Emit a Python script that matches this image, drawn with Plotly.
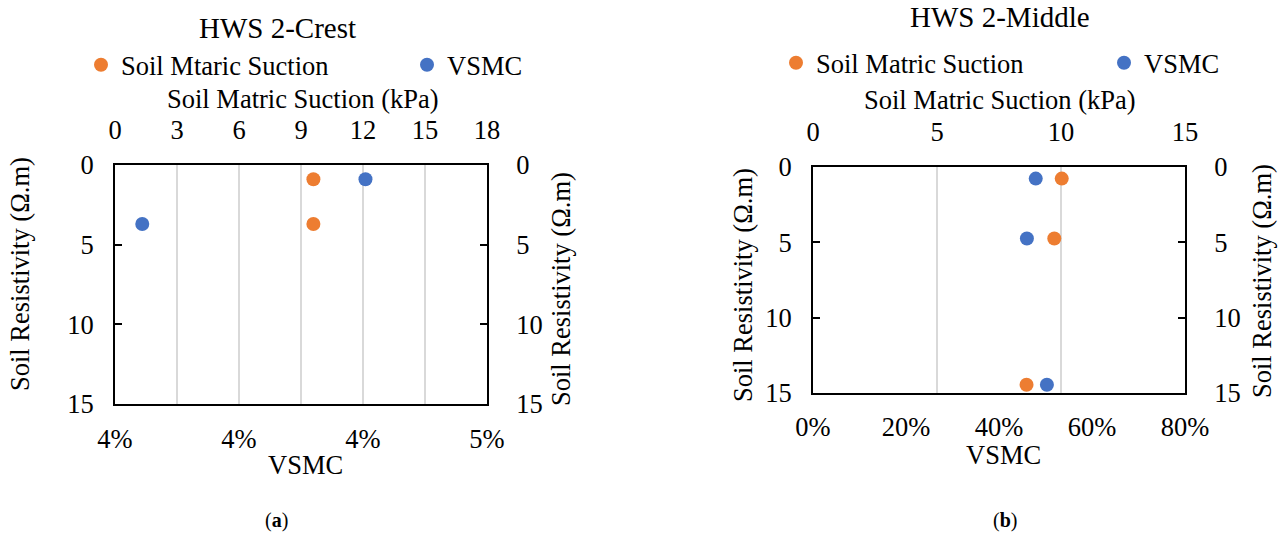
import plotly.graph_objects as go

W, H = 1281, 536
FONT = "Liberation Serif"
ORANGE = "#ED7D31"
BLUE = "#4472C4"
GRID = "#D9D9D9"
FS = 26.5

# ---- Panel (a): HWS 2-Crest ----
crest_res = [0.89, 3.70]                 # soil resistivity (Ω.m)
crest_suction = [9.6, 9.6]               # soil matric suction (kPa)
crest_vsmc = [0.04255, 0.03805]          # volumetric soil moisture content
crest_vsmc_ticks = [0.0375, 0.04, 0.0425, 0.045]
crest_vsmc_ticktext = ["4%", "4%", "4%", "5%"]
crest_suction_ticks = [0, 3, 6, 9, 12, 15, 18]

# ---- Panel (b): HWS 2-Middle ----
middle_res = [0.77, 4.75, 14.45]
middle_suction = [10.03, 9.73, 8.61]
middle_vsmc = [0.479, 0.460, 0.503]
middle_vsmc_ticks = [0, 0.2, 0.4, 0.6, 0.8]
middle_vsmc_ticktext = ["0%", "20%", "40%", "60%", "80%"]
middle_suction_ticks = [0, 5, 10, 15]

res_ticks = [0, 5, 10, 15]


def px(x):
    return x / W


def py(y):
    return 1 - y / H


fig = go.Figure()

# panel (a) traces
fig.add_trace(go.Scatter(x=crest_suction, y=crest_res, mode="markers",
                         name="Soil Mtaric Suction", xaxis="x2", yaxis="y2",
                         marker=dict(color=ORANGE, size=14), legend="legend"))
fig.add_trace(go.Scatter(x=crest_vsmc, y=crest_res, mode="markers",
                         name="VSMC", xaxis="x", yaxis="y",
                         marker=dict(color=BLUE, size=14), legend="legend"))
# panel (b) traces
fig.add_trace(go.Scatter(x=middle_suction, y=middle_res, mode="markers",
                         name="Soil Matric Suction", xaxis="x4", yaxis="y4",
                         marker=dict(color=ORANGE, size=14), legend="legend2"))
fig.add_trace(go.Scatter(x=middle_vsmc, y=middle_res, mode="markers",
                         name="VSMC", xaxis="x3", yaxis="y3",
                         marker=dict(color=BLUE, size=14), legend="legend2"))

tickfont = dict(family=FONT, size=FS, color="black")
line = dict(showline=True, linecolor="black", linewidth=2, zeroline=False)
ytick = dict(ticks="inside", ticklen=7, tickwidth=1.5, tickcolor="black",
             showgrid=False, tickfont=tickfont, tickvals=res_ticks,
             range=[15, 0])

dom_a_x = [px(115), px(487)]
dom_a_y = [py(404), py(165)]
dom_b_x = [px(813), px(1185)]
dom_b_y = [py(393), py(167)]

fig.update_layout(
    width=W, height=H,
    margin=dict(l=0, r=0, t=0, b=0, autoexpand=False),
    paper_bgcolor="white", plot_bgcolor="white",
    font=dict(family=FONT, size=FS, color="black"),
    # panel (a) axes
    xaxis=dict(domain=dom_a_x, anchor="y", range=[0.0375, 0.045],
               tickvals=crest_vsmc_ticks, ticktext=crest_vsmc_ticktext,
               showgrid=False, ticks="", tickfont=tickfont,
               ticklabelstandoff=10, **line),
    xaxis2=dict(overlaying="x", side="top", anchor="y", range=[0, 18],
                tickvals=crest_suction_ticks, showgrid=True, gridcolor=GRID,
                gridwidth=1.5, ticks="", tickfont=tickfont,
                ticklabelstandoff=13, **line),
    yaxis=dict(domain=dom_a_y, anchor="x", ticklabelstandoff=14,
               **ytick, **line),
    yaxis2=dict(overlaying="y", side="right", anchor="x",
                ticklabelstandoff=22, **ytick, **line),
    # panel (b) axes
    xaxis3=dict(domain=dom_b_x, anchor="y3", range=[0, 0.8],
                tickvals=middle_vsmc_ticks, ticktext=middle_vsmc_ticktext,
                showgrid=False, ticks="", tickfont=tickfont,
                ticklabelstandoff=9, **line),
    xaxis4=dict(overlaying="x3", side="top", anchor="y3", range=[0, 15],
                tickvals=middle_suction_ticks, showgrid=True, gridcolor=GRID,
                gridwidth=1.5, ticks="", tickfont=tickfont,
                ticklabelstandoff=13, **line),
    yaxis3=dict(domain=dom_b_y, anchor="x3", ticklabelstandoff=14,
                **ytick, **line),
    yaxis4=dict(overlaying="y3", side="right", anchor="x3",
                ticklabelstandoff=22, **ytick, **line),
    legend=dict(orientation="h", x=px(81), y=py(65), xanchor="left",
                yanchor="middle", entrywidth=281, bgcolor="rgba(0,0,0,0)",
                font=dict(family=FONT, size=FS), itemclick=False),
    legend2=dict(orientation="h", x=px(776), y=py(63), xanchor="left",
                 yanchor="middle", entrywidth=283, bgcolor="rgba(0,0,0,0)",
                 font=dict(family=FONT, size=FS), itemclick=False),
    showlegend=True,
)


def note(text, x, y, size=FS, angle=0):
    fig.add_annotation(text=text, x=px(x), y=py(y), xref="paper", yref="paper",
                       xanchor="center", yanchor="middle", showarrow=False,
                       textangle=angle, font=dict(family=FONT, size=size,
                                                  color="black"))


# panel (a) titles
note("HWS 2-Crest", 277, 28, size=29)
note("Soil Matric Suction (kPa)", 303, 99)
note("VSMC", 305, 465)
note("Soil Resistivity (Ω.m)", 20, 274, angle=-90)
note("Soil Resistivity (Ω.m)", 561, 289, angle=-90)
note("(<b>a</b>)", 276, 520, size=20)

# panel (b) titles
note("HWS 2-Middle", 1000, 17, size=29)
note("Soil Matric Suction (kPa)", 1000, 100)
note("VSMC", 1003, 455)
note("Soil Resistivity (Ω.m)", 743, 285, angle=-90)
note("Soil Resistivity (Ω.m)", 1262, 281, angle=-90)
note("(<b>b</b>)", 1005, 520, size=20)

fig.write_html("out.html")
